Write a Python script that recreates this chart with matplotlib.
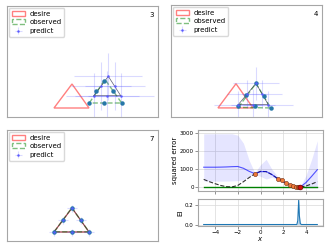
import matplotlib
matplotlib.use("Agg")
import matplotlib.pyplot as plt
from matplotlib.patches import Polygon

# ---- triangle panels (units: arbitrary workspace coords) ----
desire_tri = [(4.7, 0.9), (6.5, 3.3), (8.2, 0.9)]

# panel 3
p3_obs_tri = [(8.23, 1.4), (9.8, 3.75), (11.47, 1.4)]
p3_obs_x = [9.73, 8.9, 10.57, 8.23, 9.73, 11.47]
p3_obs_y = [3.6, 2.57, 2.57, 1.4, 1.4, 1.4]
p3_pred_tri = [(8.7, 2.13), (10.13, 4.07), (11.37, 2.13)]
p3_pred_x = [10.13, 9.42, 10.75, 8.7, 10.03, 11.37]
p3_pred_y = [4.07, 3.1, 3.1, 2.13, 2.13, 2.13]
p3_xerr = [3.4, 3.0, 3.0, 2.8, 3.2, 3.3]
p3_yerr = [2.35, 2.4, 2.4, 2.3, 2.5, 2.3]

# panel 4
p4_obs_tri = [(6.73, 0.95), (8.5, 3.33), (9.97, 0.9)]
p4_obs_x = [8.5, 7.47, 9.27, 6.73, 8.4, 9.97]
p4_obs_y = [3.33, 2.17, 2.07, 1.07, 1.07, 0.9]
p4_pred_tri = [(6.73, 1.23), (8.5, 3.33), (9.73, 1.23)]
p4_pred_x = [8.5, 7.62, 9.12, 6.73, 8.23, 9.73]
p4_pred_y = [3.33, 2.28, 2.28, 1.23, 1.23, 1.23]
p4_xerr = [2.3, 2.0, 2.0, 2.4, 2.2, 2.5]
p4_yerr = [1.6, 1.4, 1.4, 1.3, 1.5, 1.3]

# panel 7
p7_obs_tri = [(4.72, 0.92), (6.48, 3.32), (8.2, 0.92)]
p7_obs_x = [6.48, 5.6, 7.35, 4.72, 6.46, 8.2]
p7_obs_y = [3.32, 2.12, 2.12, 0.92, 0.92, 0.92]
p7_pred_tri = [(4.7, 0.9), (6.5, 3.3), (8.2, 0.9)]
p7_pred_x = [6.5, 5.6, 7.35, 4.7, 6.45, 8.2]
p7_pred_y = [3.3, 2.1, 2.1, 0.9, 0.9, 0.9]
p7_xerr = [0.5, 0.5, 0.5, 0.5, 0.5, 0.5]
p7_yerr = [0.35, 0.35, 0.35, 0.35, 0.35, 0.35]

# ---- Bayesian optimisation panel ----
xs = [-5, -4.5, -4, -3.5, -3, -2.5, -2, -1.5, -1, -0.5, 0, 0.5, 1, 1.5, 2, 2.5, 3, 3.5, 4, 4.5, 5]
true_err = [430, 300, 190, 90, 20, 10, 90, 300, 530, 740, 880, 860, 700, 480, 300, 150, 45, 0, 60, 170, 300]
mean_err = [1110, 1110, 1110, 1115, 1125, 1140, 1150, 1050, 880, 750, 860, 870, 700, 470, 300, 150, 50, 0, 250, 600, 970]
upper_err = [2980, 2980, 2980, 2980, 2980, 2980, 2900, 2450, 1500, 800, 1250, 1550, 1000, 600, 330, 170, 60, 10, 650, 1550, 2600]
lower_err = [340, 330, 330, 330, 335, 345, 360, 400, 620, 700, 600, 450, 550, 430, 280, 140, 40, -10, -60, -50, -40]
obs_x = [-0.52, 1.53, 1.88, 2.26, 2.61, 2.9, 3.13, 3.28, 3.42]
obs_y = [745, 466, 372, 205, 112, 56, 19, 5, 2]
best_x = [3.48]
best_y = [0]
ei_x = [-5, 3.2, 3.28, 3.36, 3.42, 3.5, 3.6, 5]
ei_y = [0, 0, 0.04, 0.25, 0.09, 0.01, 0, 0]

W, H = 330, 248
fig = plt.figure(figsize=(W / 100, H / 100), dpi=100)


def box(l, t, r, b):
    return [l / W, (H - b) / H, (r - l) / W, (b - t) / H]


def tri_panel(rect, num, obs_tri, ox, oy, pred_tri, px, py, xe, ye):
    ax = fig.add_axes(rect)
    ax.add_patch(Polygon(desire_tri, closed=True, fill=False, edgecolor="r",
                         alpha=0.5, lw=1, label="desire"))
    ax.add_patch(Polygon(obs_tri, closed=True, fill=False, edgecolor="g",
                         ls="--", alpha=0.5, lw=1, label="observed"))
    tx = [p[0] for p in pred_tri] + [pred_tri[0][0]]
    ty = [p[1] for p in pred_tri] + [pred_tri[0][1]]
    ax.plot(tx, ty, color="#222244", lw=0.5, alpha=0.75)
    ax.errorbar(px, py, xerr=xe, yerr=ye, fmt=".", color="#5a5aff", ms=1.5,
                ecolor=(0.35, 0.35, 1, 0.22), elinewidth=0.8, label="predict")
    ax.plot(ox, oy, "o", color="#2677a8", ms=2.2)
    ax.set_xlim(0, 15.1)
    ax.set_ylim(0, 11.1)
    ax.set_xticks([])
    ax.set_yticks([])
    for sp in ax.spines.values():
        sp.set_edgecolor("0.65")
    ax.text(0.975, 0.95, num, transform=ax.transAxes, ha="right", va="top", fontsize=5)
    ax.legend(loc="upper left", fontsize=5, handlelength=2.0, labelspacing=0.4,
              borderpad=0.35, handletextpad=0.6, borderaxespad=0.3, framealpha=1,
              edgecolor="0.85")


tri_panel(box(7, 6, 158, 117), "3", p3_obs_tri, p3_obs_x, p3_obs_y,
          p3_pred_tri, p3_pred_x, p3_pred_y, p3_xerr, p3_yerr)
tri_panel(box(171, 5, 322, 117), "4", p4_obs_tri, p4_obs_x, p4_obs_y,
          p4_pred_tri, p4_pred_x, p4_pred_y, p4_xerr, p4_yerr)
tri_panel(box(7, 130, 158, 241), "7", p7_obs_tri, p7_obs_x, p7_obs_y,
          p7_pred_tri, p7_pred_x, p7_pred_y, p7_xerr, p7_yerr)


def style(ax):
    ax.grid(True, color="0.85", lw=0.5)
    ax.set_axisbelow(True)
    for sp in ax.spines.values():
        sp.set_edgecolor("0.65")
    ax.tick_params(labelsize=4, length=2, width=0.5, pad=1, color="0.4")


ax1 = fig.add_axes(box(198, 130, 323, 191))
ax1.fill_between(xs, lower_err, upper_err, color="b", alpha=0.1, lw=0)
ax1.plot(xs, [0] * len(xs), color="g", lw=1)
ax1.plot(xs, true_err, "k--", lw=0.8, alpha=0.8)
ax1.plot(xs, mean_err, color="b", lw=0.8, alpha=0.65)
ax1.plot(obs_x, obs_y, "o", color="#f07a3a", mec="#6a2a10", mew=0.4, ms=3)
ax1.plot(best_x, best_y, "o", color="#d01010", mec="#600000", mew=0.4, ms=3.5)
ax1.set_xlim(-5.5, 5.5)
ax1.set_ylim(-220, 3190)
ax1.set_yticks([0, 1000, 2000, 3000])
ax1.set_xticks([-4, -2, 0, 2, 4])
ax1.set_xticklabels([])
ax1.set_ylabel("squared error", fontsize=5, labelpad=1)
style(ax1)

ax2 = fig.add_axes(box(198, 199, 323, 226))
ax2.fill_between(ei_x, 0, ei_y, color="C0", alpha=0.3, lw=0)
ax2.plot(ei_x, ei_y, color="C0", lw=0.8)
ax2.set_xlim(-5.5, 5.5)
ax2.set_ylim(-0.015, 0.26)
ax2.set_yticks([0.0, 0.2])
ax2.set_yticklabels(["0.0", "0.2"])
ax2.set_xticks([-4, -2, 0, 2, 4])
ax2.set_ylabel("EI", fontsize=5, labelpad=1)
ax2.set_xlabel("$x$", fontsize=5, labelpad=0)
style(ax2)

fig.savefig("out.png", dpi=100)
